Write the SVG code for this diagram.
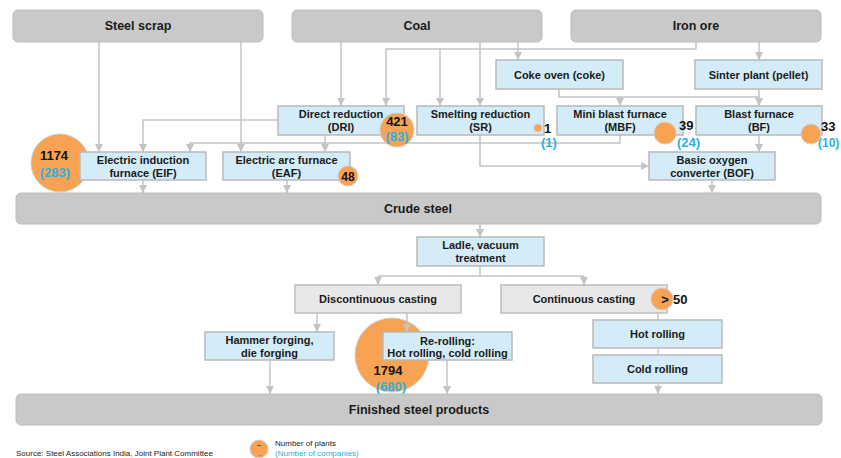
<svg xmlns="http://www.w3.org/2000/svg" width="841" height="458" viewBox="0 0 841 458">
<style>
text{font-family:"Liberation Sans",Arial,sans-serif;}
.hdr{fill:#c9c9c9;stroke:#bdbdbd;stroke-width:1;}
.box{fill:#d3ecf8;stroke:#b9b9b9;stroke-width:1.5;}
.gbox{fill:#e8e8e8;stroke:#bdbdbd;stroke-width:1.5;}
.ht{font-size:12.5px;font-weight:bold;fill:#1a1a1a;text-anchor:middle;}
.bt{font-size:11px;font-weight:bold;fill:#1a1a1a;text-anchor:middle;}
.num{font-size:13px;font-weight:bold;fill:#111;}
.cnt{font-size:13px;font-weight:bold;fill:#29b1e6;}
.circ{fill:#f8a352;stroke:#cfcfcf;stroke-width:1;}
.ln{fill:none;stroke:#c4c4c4;stroke-width:1.5;}
.src{font-size:8px;fill:#222;}
</style>
<defs>
<marker id="ah" viewBox="0 0 10 10" refX="10" refY="5" markerWidth="9" markerHeight="8" markerUnits="userSpaceOnUse" orient="auto">
<path d="M0,0 L10,5 L0,10 z" fill="#c4c4c4"/>
</marker>
</defs>

<g id="connectors">
<path class="ln" d="M99,42 V152" marker-end="url(#ah)"/>
<path class="ln" d="M241,42 V152" marker-end="url(#ah)"/>
<path class="ln" d="M341,42 V106" marker-end="url(#ah)"/>
<path class="ln" d="M480,42 V106" marker-end="url(#ah)"/>
<path class="ln" d="M518,42 V60" marker-end="url(#ah)"/>
<path class="ln" d="M696,42 V49 H386 V106" marker-end="url(#ah)"/>
<path class="ln" d="M440,49 V106" marker-end="url(#ah)"/>
<path class="ln" d="M759,42 V60" marker-end="url(#ah)"/>
<path class="ln" d="M559,89 V97 H759" />
<path class="ln" d="M759,89 V106" marker-end="url(#ah)"/>
<path class="ln" d="M620,97 V106" marker-end="url(#ah)"/>
<path class="ln" d="M759,135 V152" marker-end="url(#ah)"/>
<path class="ln" d="M480,135 V166 H649" marker-end="url(#ah)"/>
<path class="ln" d="M620,135 V143 H190 V152" marker-end="url(#ah)"/>
<path class="ln" d="M325,135 V152" marker-end="url(#ah)"/>
<path class="ln" d="M278,120 H143 V152" marker-end="url(#ah)"/>
<path class="ln" d="M143,180 V193" marker-end="url(#ah)"/>
<path class="ln" d="M287,180 V193" marker-end="url(#ah)"/>
<path class="ln" d="M712,180 V193" marker-end="url(#ah)"/>
<path class="ln" d="M480,224 V237" marker-end="url(#ah)"/>
<path class="ln" d="M480,266 V276"/>
<path class="ln" d="M378,276 H584"/>
<path class="ln" d="M378,276 V285" marker-end="url(#ah)"/>
<path class="ln" d="M584,276 V285" marker-end="url(#ah)"/>
<path class="ln" d="M317,313 V332" marker-end="url(#ah)"/>
<path class="ln" d="M658,313 V320"/>
<path class="ln" d="M658,348 V355"/>
<path class="ln" d="M658,383 V394" marker-end="url(#ah)"/>
<path class="ln" d="M270,360 V394" marker-end="url(#ah)"/>
<path class="ln" d="M447,360 V394" marker-end="url(#ah)"/>
</g>

<g id="steel-scrap"><rect class="hdr" x="13" y="10" width="250" height="32" rx="5"/><text class="ht" x="138" y="30">Steel scrap</text></g>
<g id="coal"><rect class="hdr" x="292" y="10" width="250" height="32" rx="5"/><text class="ht" x="417" y="30">Coal</text></g>
<g id="iron-ore"><rect class="hdr" x="571" y="10" width="250" height="32" rx="5"/><text class="ht" x="696" y="30">Iron ore</text></g>

<g id="coke-oven"><rect class="box" x="496" y="60" width="127" height="29"/><text class="bt" x="559.5" y="78.5">Coke oven (coke)</text></g>
<g id="sinter-plant"><rect class="box" x="695" y="60" width="127" height="29"/><text class="bt" x="758.5" y="78.5">Sinter plant (pellet)</text></g>

<g id="dri"><rect class="box" x="278" y="106" width="126" height="29"/><text class="bt" x="341" y="118">Direct reduction</text><text class="bt" x="341" y="131">(DRI)</text>
<circle class="circ" cx="397" cy="130" r="17"/><text class="num" x="397" y="126" text-anchor="middle">421</text><text class="cnt" x="397" y="141" text-anchor="middle">(83)</text></g>

<g id="sr"><rect class="box" x="417" y="106" width="127" height="29"/><text class="bt" x="480.5" y="118">Smelting reduction</text><text class="bt" x="480.5" y="131">(SR)</text>
<circle class="circ" cx="538" cy="128" r="4"/><text class="num" x="544" y="133">1</text><text class="cnt" x="541" y="147">(1)</text></g>

<g id="mbf"><rect class="box" x="557" y="106" width="126" height="29"/><text class="bt" x="620" y="118">Mini blast furnace</text><text class="bt" x="620" y="131">(MBF)</text>
<circle class="circ" cx="665" cy="133" r="11"/><text class="num" x="679" y="130">39</text><text class="cnt" x="677" y="147">(24)</text></g>

<g id="bf"><rect class="box" x="696" y="106" width="126" height="29"/><text class="bt" x="759" y="118">Blast furnace</text><text class="bt" x="759" y="131">(BF)</text>
<circle class="circ" cx="811" cy="134" r="10"/><text class="num" x="821" y="131">33</text><text class="cnt" x="818" y="147" style="font-size:12px">(10)</text></g>

<g id="eif"><circle class="circ" cx="60" cy="163" r="29"/><rect class="box" x="80" y="152" width="126" height="28"/><text class="bt" x="143" y="164">Electric induction</text><text class="bt" x="143" y="177">furnace (EIF)</text>
<text class="num" x="54" y="160" text-anchor="middle">1174</text><text class="cnt" x="55" y="177" text-anchor="middle">(283)</text></g>

<g id="eaf"><rect class="box" x="223" y="152" width="127" height="28"/><text class="bt" x="286.5" y="164">Electric arc furnace</text><text class="bt" x="286.5" y="177">(EAF)</text>
<circle class="circ" cx="348" cy="176" r="10"/><text class="num" x="348" y="181" text-anchor="middle" style="font-size:12px">48</text></g>

<g id="bof"><rect class="box" x="649" y="152" width="126" height="28"/><text class="bt" x="712" y="164">Basic oxygen</text><text class="bt" x="712" y="177">converter (BOF)</text></g>

<g id="crude-steel"><rect class="hdr" x="16" y="193" width="805" height="31" rx="5"/><text class="ht" x="418" y="213">Crude steel</text></g>

<g id="ladle"><rect class="box" x="417" y="237" width="127" height="29"/><text class="bt" x="480.5" y="249">Ladle, vacuum</text><text class="bt" x="480.5" y="262">treatment</text></g>

<g id="discontinuous"><rect class="gbox" x="295" y="285" width="166" height="28"/><text class="bt" x="378" y="303">Discontinuous casting</text></g>
<g id="continuous"><rect class="gbox" x="501" y="285" width="166" height="28"/><text class="bt" x="584" y="303">Continuous casting</text>
<circle class="circ" cx="662" cy="299" r="11"/><text class="num" x="665" y="304" text-anchor="middle">&gt;</text><text class="num" x="673" y="304">50</text></g>

<g id="hammer"><rect class="box" x="205" y="332" width="129" height="28"/><text class="bt" x="269.5" y="344">Hammer forging,</text><text class="bt" x="269.5" y="357">die forging</text></g>

<g id="rerolling"><circle class="circ" cx="392" cy="355" r="37"/><path class="ln" d="M407,313 V332" marker-end="url(#ah)"/><rect class="box" x="383" y="332" width="129" height="28"/><text class="bt" x="447.5" y="345">Re-rolling:</text><text class="bt" x="447.5" y="357">Hot rolling, cold rolling</text>
<text class="num" x="388" y="375" text-anchor="middle">1794</text><text class="cnt" x="391" y="391" text-anchor="middle">(680)</text></g>

<g id="hot-rolling"><rect class="box" x="593" y="320" width="129" height="28"/><text class="bt" x="657.5" y="338">Hot rolling</text></g>
<g id="cold-rolling"><rect class="box" x="593" y="355" width="129" height="28"/><text class="bt" x="657.5" y="373">Cold rolling</text></g>

<g id="finished"><rect class="hdr" x="16" y="394" width="806" height="31" rx="5"/><text class="ht" x="419" y="414">Finished steel products</text></g>

<g id="legend">
<text class="src" x="16" y="456">Source: Steel Associations India, Joint Plant Committee</text>
<circle class="circ" cx="259" cy="449" r="9"/>
<text x="259" y="446" text-anchor="middle" style="font-size:7px;font-weight:bold;fill:#111">..</text>
<text x="259" y="456" text-anchor="middle" style="font-size:7px;font-weight:bold;fill:#29b1e6">..</text>
<text class="src" x="275" y="446">Number of plants</text>
<text class="src" x="275" y="456" style="fill:#29b1e6">(Number of companies)</text>
</g>
</svg>
